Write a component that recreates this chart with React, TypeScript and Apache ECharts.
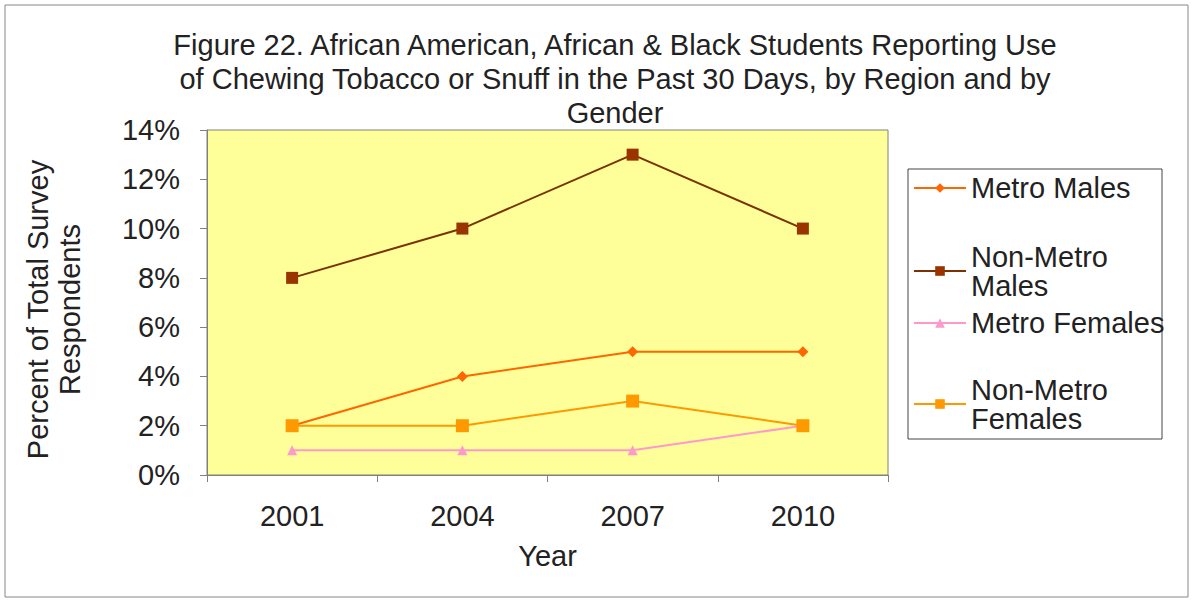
import React, { useEffect, useRef } from "react";
import * as echarts from "echarts";

const years = ["2001", "2004", "2007", "2010"];
const metroMales = [2, 4, 5, 5];
const nonMetroMales = [8, 10, 13, 10];
const metroFemales = [1, 1, 1, 2];
const nonMetroFemales = [2, 2, 3, 2];
const seriesNames = ["Metro Males", "Non-Metro Males", "Metro Females", "Non-Metro Females"];
const legendLabels = ["Metro Males", "Non-Metro\nMales", "Metro Females", "Non-Metro\nFemales"];
const titleText =
  "Figure 22. African American, African & Black Students Reporting Use\nof Chewing Tobacco or Snuff in the Past 30 Days, by Region and by\nGender";

const FONT = "'Liberation Sans', Arial, sans-serif";

export default function App() {
  const ref = useRef<HTMLDivElement>(null);
  useEffect(() => {
    document.body.style.margin = "0";
    const chart = echarts.init(ref.current!, null, { renderer: "svg" });
    const colors = ["#FF6600", "#993300", "#FF99CC", "#FF9900"];
    const lineColors = ["#FF6600", "#7A3300", "#FF99CC", "#FF9900"];
    const symbols = ["diamond", "rect", "triangle", "rect"];
    const sizes = [11, 12, 10, 13];
    const datas = [metroMales, nonMetroMales, metroFemales, nonMetroFemales];
    const legendTops = [173.5, 242, 308.5, 375];
    chart.setOption({
      animation: false,
      textStyle: { fontFamily: FONT },
      title: {
        text: titleText,
        left: 610,
        textAlign: "center",
        top: 23,
        textStyle: { fontSize: 29, fontWeight: "normal", color: "#222", lineHeight: 34, fontFamily: FONT },
      },
      graphic: [
        {
          type: "rect",
          shape: { x: 5, y: 5, width: 1183, height: 592 },
          style: { fill: "none", stroke: "#888", lineWidth: 1 },
          silent: true,
        },
        {
          type: "rect",
          shape: { x: 908, y: 169, width: 254, height: 270 },
          style: { fill: "#fff", stroke: "#444", lineWidth: 1 },
          z: -1,
          silent: true,
        },
      ],
      legend: seriesNames.map((n, i) => ({
        data: [n],
        left: 913,
        top: legendTops[i],
        itemWidth: 52,
        itemHeight: 12,
        itemGap: 4,
        padding: 0,
        formatter: () => legendLabels[i],
        textStyle: {
          fontSize: 29,
          color: "#222",
          lineHeight: 29,
          fontFamily: FONT,
        },
      })),
      grid: {
        left: 207,
        top: 130,
        width: 681,
        height: 345,
        show: true,
        backgroundColor: "#FFFF99",
        borderColor: "#808080",
        borderWidth: 1,
      },
      xAxis: {
        type: "category",
        data: years,
        boundaryGap: true,
        name: "Year",
        nameLocation: "middle",
        nameGap: 66,
        nameTextStyle: { fontSize: 29, color: "#222", fontFamily: FONT },
        axisLine: { lineStyle: { color: "#808080" } },
        axisTick: { show: true, length: 7, lineStyle: { color: "#808080" } },
        axisLabel: { fontSize: 29, color: "#222", margin: 26, fontFamily: FONT },
      },
      yAxis: {
        type: "value",
        min: 0,
        max: 14,
        interval: 2,
        name: "Percent of Total Survey\nRespondents",
        nameLocation: "middle",
        nameGap: 121,
        nameTextStyle: {
          fontSize: 29,
          color: "#222",
          lineHeight: 32,
          fontFamily: FONT,
          padding: [0, 14, 0, 0],
        },
        axisLine: { show: true, lineStyle: { color: "#808080" } },
        axisTick: { show: true, length: 7, lineStyle: { color: "#808080" } },
        splitLine: { show: false },
        axisLabel: { fontSize: 29, color: "#222", formatter: "{value}%", margin: 27, fontFamily: FONT },
      },
      series: seriesNames.map((n, i) => ({
        name: n,
        type: "line",
        data: datas[i],
        symbol: symbols[i],
        symbolSize: sizes[i],
        color: colors[i],
        lineStyle: { width: 2, color: lineColors[i] },
        itemStyle: { color: colors[i] },
      })),
    });
    return () => chart.dispose();
  }, []);
  return <div ref={ref} style={{ width: 1193, height: 602 }} />;
}
